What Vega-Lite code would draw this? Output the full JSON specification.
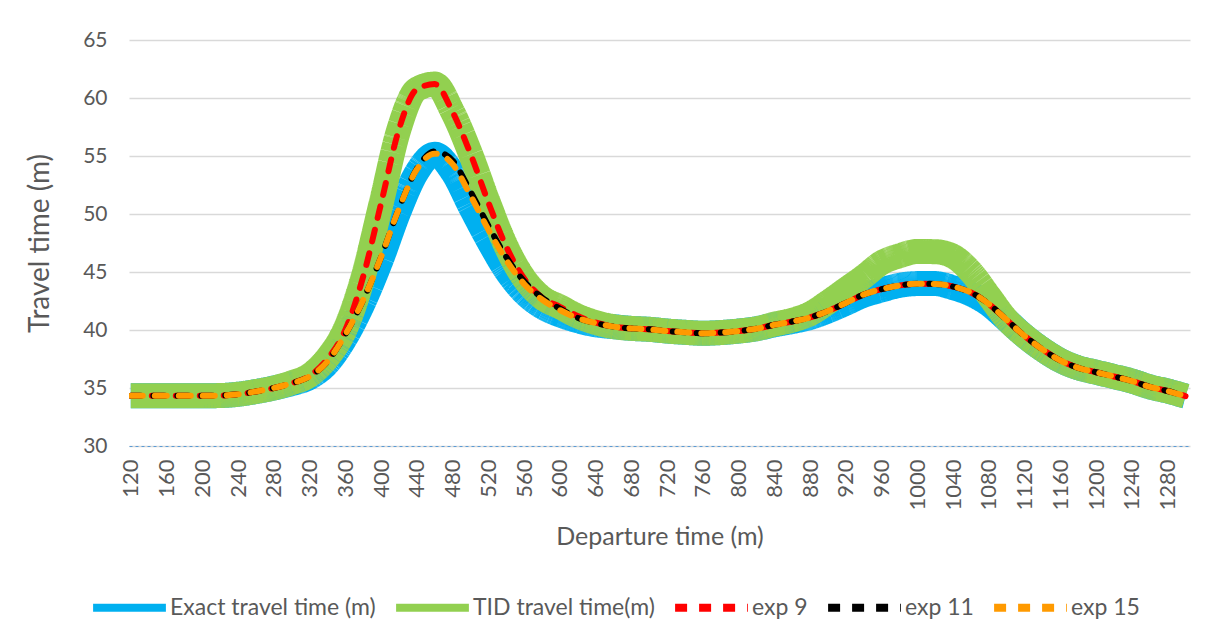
{
  "$schema": "https://vega.github.io/schema/vega-lite/v6.json",
  "autosize": "none",
  "width": 1061,
  "height": 406,
  "padding": {"left": 129, "top": 40, "right": 24, "bottom": 190},
  "background": "white",
  "config": {
    "view": {"stroke": null},
    "font": "Lato",
    "axis": {"labelColor": "#595959", "titleColor": "#595959", "labelFont": "Lato", "titleFont": "Lato", "titleFontWeight": "normal"},
    "legend": {"labelColor": "#595959", "labelFont": "Lato"}
  },
  "data": {
    "values": [
      {"t": 120, "Exact travel time (m)": 34.33, "TID travel time(m)": 34.33, "exp 9": 34.33, "exp 11": 34.33, "exp 15": 34.33},
      {"t": 140, "Exact travel time (m)": 34.33, "TID travel time(m)": 34.33, "exp 9": 34.33, "exp 11": 34.33, "exp 15": 34.33},
      {"t": 160, "Exact travel time (m)": 34.33, "TID travel time(m)": 34.33, "exp 9": 34.33, "exp 11": 34.33, "exp 15": 34.33},
      {"t": 180, "Exact travel time (m)": 34.33, "TID travel time(m)": 34.33, "exp 9": 34.33, "exp 11": 34.33, "exp 15": 34.33},
      {"t": 200, "Exact travel time (m)": 34.33, "TID travel time(m)": 34.33, "exp 9": 34.33, "exp 11": 34.33, "exp 15": 34.33},
      {"t": 220, "Exact travel time (m)": 34.35, "TID travel time(m)": 34.35, "exp 9": 34.35, "exp 11": 34.35, "exp 15": 34.35},
      {"t": 240, "Exact travel time (m)": 34.46, "TID travel time(m)": 34.46, "exp 9": 34.46, "exp 11": 34.46, "exp 15": 34.46},
      {"t": 260, "Exact travel time (m)": 34.7, "TID travel time(m)": 34.7, "exp 9": 34.7, "exp 11": 34.7, "exp 15": 34.7},
      {"t": 280, "Exact travel time (m)": 35.0, "TID travel time(m)": 35.0, "exp 9": 35.0, "exp 11": 35.0, "exp 15": 35.0},
      {"t": 300, "Exact travel time (m)": 35.38, "TID travel time(m)": 35.45, "exp 9": 35.41, "exp 11": 35.41, "exp 15": 35.41},
      {"t": 320, "Exact travel time (m)": 35.9, "TID travel time(m)": 36.1, "exp 9": 36.05, "exp 11": 35.99, "exp 15": 35.99},
      {"t": 340, "Exact travel time (m)": 37.1, "TID travel time(m)": 37.6, "exp 9": 37.5, "exp 11": 37.28, "exp 15": 37.28},
      {"t": 360, "Exact travel time (m)": 39.3, "TID travel time(m)": 40.1, "exp 9": 40.0, "exp 11": 39.61, "exp 15": 39.61},
      {"t": 380, "Exact travel time (m)": 42.3, "TID travel time(m)": 44.6, "exp 9": 44.6, "exp 11": 42.59, "exp 15": 42.59},
      {"t": 400, "Exact travel time (m)": 46.0, "TID travel time(m)": 50.9, "exp 9": 50.9, "exp 11": 46.29, "exp 15": 46.29},
      {"t": 420, "Exact travel time (m)": 50.2, "TID travel time(m)": 57.3, "exp 9": 57.3, "exp 11": 50.47, "exp 15": 50.47},
      {"t": 440, "Exact travel time (m)": 53.6, "TID travel time(m)": 60.75, "exp 9": 60.75, "exp 11": 53.9, "exp 15": 53.84},
      {"t": 460, "Exact travel time (m)": 55.15, "TID travel time(m)": 61.2, "exp 9": 61.2, "exp 11": 55.4, "exp 15": 55.2},
      {"t": 480, "Exact travel time (m)": 53.6, "TID travel time(m)": 58.8, "exp 9": 58.8, "exp 11": 54.6, "exp 15": 54.3},
      {"t": 500, "Exact travel time (m)": 50.6, "TID travel time(m)": 55.2, "exp 9": 55.2, "exp 11": 51.95, "exp 15": 51.6},
      {"t": 520, "Exact travel time (m)": 47.7, "TID travel time(m)": 51.0, "exp 9": 51.0, "exp 11": 49.0, "exp 15": 48.66},
      {"t": 540, "Exact travel time (m)": 45.1, "TID travel time(m)": 47.2, "exp 9": 47.2, "exp 11": 46.3, "exp 15": 46.03},
      {"t": 560, "Exact travel time (m)": 43.2, "TID travel time(m)": 44.45, "exp 9": 44.45, "exp 11": 44.2, "exp 15": 43.97},
      {"t": 580, "Exact travel time (m)": 42.0, "TID travel time(m)": 42.8, "exp 9": 42.8, "exp 11": 42.8, "exp 15": 42.63},
      {"t": 600, "Exact travel time (m)": 41.3, "TID travel time(m)": 42.0, "exp 9": 42.0, "exp 11": 41.85, "exp 15": 41.72},
      {"t": 620, "Exact travel time (m)": 40.8, "TID travel time(m)": 41.2, "exp 9": 41.2, "exp 11": 41.05, "exp 15": 41.03},
      {"t": 640, "Exact travel time (m)": 40.45, "TID travel time(m)": 40.65, "exp 9": 40.65, "exp 11": 40.6, "exp 15": 40.6},
      {"t": 660, "Exact travel time (m)": 40.29, "TID travel time(m)": 40.29, "exp 9": 40.29, "exp 11": 40.29, "exp 15": 40.29},
      {"t": 680, "Exact travel time (m)": 40.14, "TID travel time(m)": 40.14, "exp 9": 40.14, "exp 11": 40.14, "exp 15": 40.14},
      {"t": 700, "Exact travel time (m)": 40.06, "TID travel time(m)": 40.06, "exp 9": 40.06, "exp 11": 40.06, "exp 15": 40.06},
      {"t": 720, "Exact travel time (m)": 39.91, "TID travel time(m)": 39.91, "exp 9": 39.91, "exp 11": 39.91, "exp 15": 39.91},
      {"t": 740, "Exact travel time (m)": 39.8, "TID travel time(m)": 39.8, "exp 9": 39.8, "exp 11": 39.8, "exp 15": 39.8},
      {"t": 760, "Exact travel time (m)": 39.72, "TID travel time(m)": 39.72, "exp 9": 39.72, "exp 11": 39.72, "exp 15": 39.72},
      {"t": 780, "Exact travel time (m)": 39.78, "TID travel time(m)": 39.78, "exp 9": 39.78, "exp 11": 39.78, "exp 15": 39.78},
      {"t": 800, "Exact travel time (m)": 39.91, "TID travel time(m)": 39.91, "exp 9": 39.91, "exp 11": 39.91, "exp 15": 39.91},
      {"t": 820, "Exact travel time (m)": 40.11, "TID travel time(m)": 40.11, "exp 9": 40.11, "exp 11": 40.11, "exp 15": 40.11},
      {"t": 840, "Exact travel time (m)": 40.45, "TID travel time(m)": 40.5, "exp 9": 40.45, "exp 11": 40.45, "exp 15": 40.45},
      {"t": 860, "Exact travel time (m)": 40.73, "TID travel time(m)": 40.85, "exp 9": 40.73, "exp 11": 40.73, "exp 15": 40.73},
      {"t": 880, "Exact travel time (m)": 41.08, "TID travel time(m)": 41.4, "exp 9": 41.08, "exp 11": 41.08, "exp 15": 41.08},
      {"t": 900, "Exact travel time (m)": 41.64, "TID travel time(m)": 42.4, "exp 9": 41.64, "exp 11": 41.64, "exp 15": 41.64},
      {"t": 920, "Exact travel time (m)": 42.3, "TID travel time(m)": 43.5, "exp 9": 42.33, "exp 11": 42.33, "exp 15": 42.33},
      {"t": 940, "Exact travel time (m)": 43.0, "TID travel time(m)": 44.6, "exp 9": 43.06, "exp 11": 43.06, "exp 15": 43.06},
      {"t": 960, "Exact travel time (m)": 43.45, "TID travel time(m)": 45.8, "exp 9": 43.52, "exp 11": 43.52, "exp 15": 43.52},
      {"t": 980, "Exact travel time (m)": 43.85, "TID travel time(m)": 46.4, "exp 9": 43.84, "exp 11": 43.84, "exp 15": 43.84},
      {"t": 1000, "Exact travel time (m)": 44.0, "TID travel time(m)": 46.77, "exp 9": 43.99, "exp 11": 43.99, "exp 15": 43.99},
      {"t": 1020, "Exact travel time (m)": 44.0, "TID travel time(m)": 46.75, "exp 9": 43.97, "exp 11": 43.97, "exp 15": 43.97},
      {"t": 1040, "Exact travel time (m)": 43.65, "TID travel time(m)": 46.35, "exp 9": 43.74, "exp 11": 43.74, "exp 15": 43.74},
      {"t": 1060, "Exact travel time (m)": 43.1, "TID travel time(m)": 45.0, "exp 9": 43.23, "exp 11": 43.23, "exp 15": 43.23},
      {"t": 1080, "Exact travel time (m)": 42.2, "TID travel time(m)": 42.95, "exp 9": 42.24, "exp 11": 42.24, "exp 15": 42.24},
      {"t": 1100, "Exact travel time (m)": 40.86, "TID travel time(m)": 40.9, "exp 9": 40.86, "exp 11": 40.86, "exp 15": 40.86},
      {"t": 1120, "Exact travel time (m)": 39.48, "TID travel time(m)": 39.48, "exp 9": 39.48, "exp 11": 39.48, "exp 15": 39.48},
      {"t": 1140, "Exact travel time (m)": 38.32, "TID travel time(m)": 38.32, "exp 9": 38.32, "exp 11": 38.32, "exp 15": 38.32},
      {"t": 1160, "Exact travel time (m)": 37.37, "TID travel time(m)": 37.37, "exp 9": 37.37, "exp 11": 37.37, "exp 15": 37.37},
      {"t": 1180, "Exact travel time (m)": 36.74, "TID travel time(m)": 36.74, "exp 9": 36.74, "exp 11": 36.74, "exp 15": 36.74},
      {"t": 1200, "Exact travel time (m)": 36.36, "TID travel time(m)": 36.36, "exp 9": 36.36, "exp 11": 36.36, "exp 15": 36.36},
      {"t": 1220, "Exact travel time (m)": 35.99, "TID travel time(m)": 35.99, "exp 9": 35.99, "exp 11": 35.99, "exp 15": 35.99},
      {"t": 1240, "Exact travel time (m)": 35.6, "TID travel time(m)": 35.6, "exp 9": 35.6, "exp 11": 35.6, "exp 15": 35.6},
      {"t": 1260, "Exact travel time (m)": 35.1, "TID travel time(m)": 35.1, "exp 9": 35.1, "exp 11": 35.1, "exp 15": 35.1},
      {"t": 1280, "Exact travel time (m)": 34.74, "TID travel time(m)": 34.74, "exp 9": 34.74, "exp 11": 34.74, "exp 15": 34.74},
      {"t": 1300, "Exact travel time (m)": 34.3, "TID travel time(m)": 34.3, "exp 9": 34.3, "exp 11": 34.3, "exp 15": 34.3}
    ]
  },
  "transform": [
    {"fold": ["Exact travel time (m)", "TID travel time(m)", "exp 9", "exp 11", "exp 15"], "as": ["series", "value"]}
  ],
  "encoding": {
    "x": {
      "field": "t",
      "type": "quantitative",
      "title": "Departure time (m)",
      "scale": {"domain": [118, 1305], "nice": false, "zero": false},
      "axis": {
        "values": [120, 160, 200, 240, 280, 320, 360, 400, 440, 480, 520, 560, 600, 640, 680, 720, 760, 800, 840, 880, 920, 960, 1000, 1040, 1080, 1120, 1160, 1200, 1240, 1280],
        "format": "d",
        "labelAngle": -90,
        "labelFontSize": 22,
        "labelPadding": 13,
        "ticks": false,
        "tickSize": 0,
        "grid": false,
        "domainColor": "#5B9BD5",
        "domainDash": [3, 3],
        "domainWidth": 1.2,
        "titleFontSize": 25,
        "titlePadding": 14
      }
    },
    "y": {
      "field": "value",
      "type": "quantitative",
      "title": "Travel time (m)",
      "scale": {"domain": [30, 65], "nice": false, "zero": false},
      "axis": {
        "values": [30, 35, 40, 45, 50, 55, 60, 65],
        "labelFontSize": 21,
        "labelPadding": 22,
        "ticks": false,
        "tickSize": 0,
        "domain": false,
        "gridColor": "#D9D9D9",
        "gridWidth": 1.3,
        "titleFontSize": 28,
        "titlePadding": 28
      }
    },
    "color": {
      "field": "series",
      "type": "nominal",
      "scale": {
        "domain": ["Exact travel time (m)", "TID travel time(m)", "exp 9", "exp 11", "exp 15"],
        "range": ["#00B0F0", "#92D050", "#FF0000", "#000000", "#FF9A00"]
      },
      "legend": {
        "title": null,
        "orient": "none",
        "direction": "horizontal",
        "legendX": -40,
        "legendY": 527,
        "symbolType": "stroke",
        "symbolSize": 5300,
        "symbolStrokeWidth": 8,
        "labelFontSize": 23,
        "labelLimit": 400,
        "labelOffset": 0,
        "columnPadding": 4
      }
    },
    "strokeDash": {
      "field": "series",
      "type": "nominal",
      "scale": {
        "domain": ["Exact travel time (m)", "TID travel time(m)", "exp 9", "exp 11", "exp 15"],
        "range": [[1, 0], [1, 0], [12, 12], [12, 12], [12, 12]]
      },
      "legend": {
        "title": null,
        "orient": "none",
        "direction": "horizontal",
        "legendX": -40,
        "legendY": 527,
        "symbolType": "stroke",
        "symbolSize": 5300,
        "symbolStrokeWidth": 8,
        "labelFontSize": 23,
        "labelLimit": 400,
        "labelOffset": 0,
        "columnPadding": 4
      }
    }
  },
  "layer": [
    {
      "transform": [{"filter": "datum.series === 'Exact travel time (m)'"}],
      "mark": {"type": "line", "interpolate": "monotone", "strokeWidth": 25, "strokeCap": "butt", "strokeJoin": "round", "clip": true}
    },
    {
      "transform": [{"filter": "datum.series === 'TID travel time(m)'"}],
      "mark": {"type": "line", "interpolate": "monotone", "strokeWidth": 25, "strokeCap": "butt", "strokeJoin": "round", "clip": true}
    },
    {
      "transform": [{"filter": "datum.series === 'exp 9'"}],
      "mark": {"type": "line", "interpolate": "monotone", "strokeWidth": 6, "strokeCap": "round", "strokeJoin": "round", "strokeDashOffset": 3, "clip": true}
    },
    {
      "transform": [{"filter": "datum.series === 'exp 11'"}],
      "mark": {"type": "line", "interpolate": "monotone", "strokeWidth": 6, "strokeCap": "round", "strokeJoin": "round", "strokeDashOffset": 1.5, "clip": true}
    },
    {
      "transform": [{"filter": "datum.series === 'exp 15'"}],
      "mark": {"type": "line", "interpolate": "monotone", "strokeWidth": 6, "strokeCap": "round", "strokeJoin": "round", "clip": true}
    }
  ]
}
